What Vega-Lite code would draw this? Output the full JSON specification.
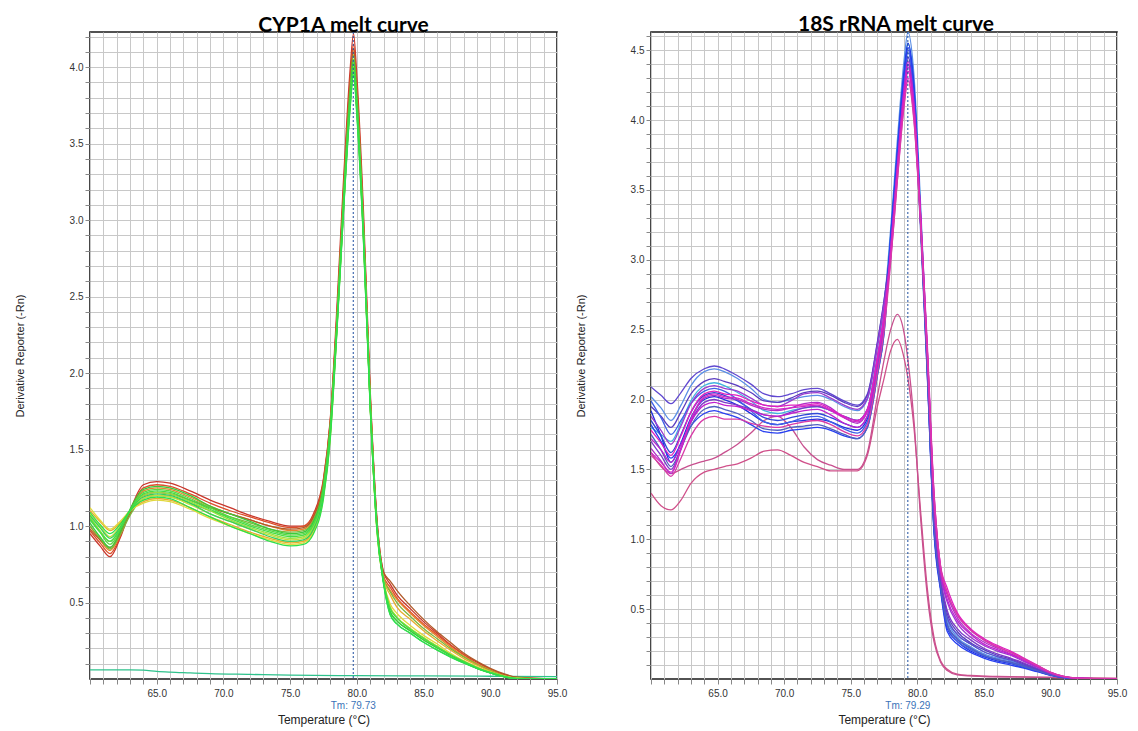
{
"$schema": "https://vega.github.io/schema/vega-lite/v6.json",
"background": "white",
"padding": {"left": 13, "top": 13, "right": 5, "bottom": 3},
"config": {
 "view": {"stroke": "#1a1a1a", "strokeWidth": 1.6},
 "axis": {"gridColor": "#c8c8c8", "gridWidth": 1, "gridOpacity": 1, "tickColor": "#888888", "tickSize": 5, "domain": false, "labelFont": "Liberation Sans", "labelFontSize": 10, "labelColor": "#333333", "titleFont": "Liberation Sans", "titleFontWeight": "normal", "titleColor": "#222222", "labelOverlap": false, "labelFlush": false, "labelBound": false},
 "title": {"font": "Lato", "fontSize": 21, "fontWeight": "bold", "color": "#000000", "baseline": "alphabetic", "offset": -4, "anchor": "middle"}
},
"datasets": {
"cyp": [
{"s":"L0","t":60,"v":0.06},{"s":"L0","t":63,"v":0.06},{"s":"L0","t":64,"v":0.058},{"s":"L0","t":65,"v":0.05},{"s":"L0","t":66,"v":0.045},{"s":"L0","t":67.5,"v":0.04},{"s":"L0","t":69,"v":0.035},{"s":"L0","t":72,"v":0.03},{"s":"L0","t":75,"v":0.025},{"s":"L0","t":80,"v":0.022},{"s":"L0","t":85,"v":0.02},{"s":"L0","t":90,"v":0.018},{"s":"L0","t":95,"v":0.015},
{"s":"L1","t":60,"v":0.95},{"s":"L1","t":60.75,"v":0.87},{"s":"L1","t":61.5,"v":0.80},{"s":"L1","t":62.25,"v":0.92},{"s":"L1","t":63,"v":1.10},{"s":"L1","t":64,"v":1.27},{"s":"L1","t":65,"v":1.29},{"s":"L1","t":66,"v":1.28},{"s":"L1","t":67.5,"v":1.23},{"s":"L1","t":69,"v":1.17},{"s":"L1","t":70.5,"v":1.12},{"s":"L1","t":72,"v":1.07},{"s":"L1","t":73.5,"v":1.03},{"s":"L1","t":75,"v":1.00},{"s":"L1","t":76,"v":1.00},{"s":"L1","t":76.75,"v":1.08},{"s":"L1","t":77.5,"v":1.31},{"s":"L1","t":78,"v":1.69},{"s":"L1","t":78.5,"v":2.42},{"s":"L1","t":79,"v":3.26},{"s":"L1","t":79.5,"v":3.99},{"s":"L1","t":79.75,"v":4.22},{"s":"L1","t":80,"v":3.94},{"s":"L1","t":80.5,"v":3.05},{"s":"L1","t":81,"v":1.89},{"s":"L1","t":81.5,"v":1.05},{"s":"L1","t":82,"v":0.70},{"s":"L1","t":82.5,"v":0.62},{"s":"L1","t":83,"v":0.55},{"s":"L1","t":84,"v":0.46},{"s":"L1","t":85,"v":0.375},{"s":"L1","t":86,"v":0.30},{"s":"L1","t":87,"v":0.225},{"s":"L1","t":88,"v":0.16},{"s":"L1","t":89,"v":0.11},{"s":"L1","t":90,"v":0.065},{"s":"L1","t":91,"v":0.03},{"s":"L1","t":92,"v":0.01},{"s":"L1","t":95,"v":0},
{"s":"L2","t":60,"v":0.97},{"s":"L2","t":60.75,"v":0.89},{"s":"L2","t":61.5,"v":0.82},{"s":"L2","t":62.25,"v":0.93},{"s":"L2","t":63,"v":1.10},{"s":"L2","t":64,"v":1.25},{"s":"L2","t":65,"v":1.27},{"s":"L2","t":66,"v":1.26},{"s":"L2","t":67.5,"v":1.21},{"s":"L2","t":69,"v":1.15},{"s":"L2","t":70.5,"v":1.10},{"s":"L2","t":72,"v":1.06},{"s":"L2","t":73.5,"v":1.02},{"s":"L2","t":75,"v":0.99},{"s":"L2","t":76,"v":1.00},{"s":"L2","t":76.75,"v":1.07},{"s":"L2","t":77.5,"v":1.30},{"s":"L2","t":78,"v":1.68},{"s":"L2","t":78.5,"v":2.37},{"s":"L2","t":79,"v":3.20},{"s":"L2","t":79.5,"v":3.92},{"s":"L2","t":79.75,"v":4.15},{"s":"L2","t":80,"v":3.87},{"s":"L2","t":80.5,"v":2.99},{"s":"L2","t":81,"v":1.86},{"s":"L2","t":81.5,"v":1.03},{"s":"L2","t":82,"v":0.67},{"s":"L2","t":82.5,"v":0.60},{"s":"L2","t":83,"v":0.53},{"s":"L2","t":84,"v":0.44},{"s":"L2","t":85,"v":0.36},{"s":"L2","t":86,"v":0.29},{"s":"L2","t":87,"v":0.22},{"s":"L2","t":88,"v":0.16},{"s":"L2","t":89,"v":0.10},{"s":"L2","t":90,"v":0.06},{"s":"L2","t":91,"v":0.025},{"s":"L2","t":92,"v":0.008},{"s":"L2","t":95,"v":0},
{"s":"L3","t":60,"v":1.00},{"s":"L3","t":60.75,"v":0.91},{"s":"L3","t":61.5,"v":0.84},{"s":"L3","t":62.25,"v":0.94},{"s":"L3","t":63,"v":1.09},{"s":"L3","t":64,"v":1.23},{"s":"L3","t":65,"v":1.25},{"s":"L3","t":66,"v":1.24},{"s":"L3","t":67.5,"v":1.19},{"s":"L3","t":69,"v":1.13},{"s":"L3","t":70.5,"v":1.08},{"s":"L3","t":72,"v":1.04},{"s":"L3","t":73.5,"v":1.00},{"s":"L3","t":75,"v":0.97},{"s":"L3","t":76,"v":0.98},{"s":"L3","t":76.75,"v":1.05},{"s":"L3","t":77.5,"v":1.28},{"s":"L3","t":78,"v":1.66},{"s":"L3","t":78.5,"v":2.35},{"s":"L3","t":79,"v":3.16},{"s":"L3","t":79.5,"v":3.88},{"s":"L3","t":79.75,"v":4.10},{"s":"L3","t":80,"v":3.83},{"s":"L3","t":80.5,"v":2.96},{"s":"L3","t":81,"v":1.84},{"s":"L3","t":81.5,"v":1.02},{"s":"L3","t":82,"v":0.66},{"s":"L3","t":82.5,"v":0.58},{"s":"L3","t":83,"v":0.52},{"s":"L3","t":84,"v":0.43},{"s":"L3","t":85,"v":0.35},{"s":"L3","t":86,"v":0.28},{"s":"L3","t":87,"v":0.21},{"s":"L3","t":88,"v":0.15},{"s":"L3","t":89,"v":0.10},{"s":"L3","t":90,"v":0.06},{"s":"L3","t":91,"v":0.023},{"s":"L3","t":92,"v":0.006},{"s":"L3","t":95,"v":0},
{"s":"L4","t":60,"v":0.98},{"s":"L4","t":60.75,"v":0.91},{"s":"L4","t":61.5,"v":0.86},{"s":"L4","t":62.25,"v":0.95},{"s":"L4","t":63,"v":1.08},{"s":"L4","t":64,"v":1.20},{"s":"L4","t":65,"v":1.22},{"s":"L4","t":66,"v":1.21},{"s":"L4","t":67.5,"v":1.17},{"s":"L4","t":69,"v":1.12},{"s":"L4","t":70.5,"v":1.08},{"s":"L4","t":72,"v":1.04},{"s":"L4","t":73.5,"v":1.00},{"s":"L4","t":75,"v":0.98},{"s":"L4","t":76,"v":0.99},{"s":"L4","t":76.75,"v":1.06},{"s":"L4","t":77.5,"v":1.29},{"s":"L4","t":78,"v":1.67},{"s":"L4","t":78.5,"v":2.36},{"s":"L4","t":79,"v":3.18},{"s":"L4","t":79.5,"v":3.90},{"s":"L4","t":79.75,"v":4.12},{"s":"L4","t":80,"v":3.84},{"s":"L4","t":80.5,"v":2.97},{"s":"L4","t":81,"v":1.85},{"s":"L4","t":81.5,"v":1.05},{"s":"L4","t":82,"v":0.70},{"s":"L4","t":82.5,"v":0.64},{"s":"L4","t":83,"v":0.58},{"s":"L4","t":84,"v":0.48},{"s":"L4","t":85,"v":0.39},{"s":"L4","t":86,"v":0.31},{"s":"L4","t":87,"v":0.24},{"s":"L4","t":88,"v":0.17},{"s":"L4","t":89,"v":0.115},{"s":"L4","t":90,"v":0.07},{"s":"L4","t":91,"v":0.035},{"s":"L4","t":92,"v":0.012},{"s":"L4","t":95,"v":0},
{"s":"L13","t":60,"v":1.00},{"s":"L13","t":60.75,"v":0.92},{"s":"L13","t":61.5,"v":0.85},{"s":"L13","t":62.25,"v":0.94},{"s":"L13","t":63,"v":1.07},{"s":"L13","t":64,"v":1.18},{"s":"L13","t":65,"v":1.20},{"s":"L13","t":66,"v":1.19},{"s":"L13","t":67.5,"v":1.15},{"s":"L13","t":69,"v":1.10},{"s":"L13","t":70.5,"v":1.06},{"s":"L13","t":72,"v":1.02},{"s":"L13","t":73.5,"v":0.98},{"s":"L13","t":75,"v":0.96},{"s":"L13","t":76,"v":0.97},{"s":"L13","t":76.75,"v":1.04},{"s":"L13","t":77.5,"v":1.27},{"s":"L13","t":78,"v":1.65},{"s":"L13","t":78.5,"v":2.33},{"s":"L13","t":79,"v":3.15},{"s":"L13","t":79.5,"v":3.86},{"s":"L13","t":79.75,"v":4.08},{"s":"L13","t":80,"v":3.81},{"s":"L13","t":80.5,"v":2.94},{"s":"L13","t":81,"v":1.83},{"s":"L13","t":81.5,"v":1.02},{"s":"L13","t":82,"v":0.66},{"s":"L13","t":82.5,"v":0.57},{"s":"L13","t":83,"v":0.50},{"s":"L13","t":84,"v":0.41},{"s":"L13","t":85,"v":0.33},{"s":"L13","t":86,"v":0.265},{"s":"L13","t":87,"v":0.20},{"s":"L13","t":88,"v":0.145},{"s":"L13","t":89,"v":0.095},{"s":"L13","t":90,"v":0.055},{"s":"L13","t":91,"v":0.022},{"s":"L13","t":92,"v":0.006},{"s":"L13","t":95,"v":0},
{"s":"L5","t":60,"v":1.10},{"s":"L5","t":60.75,"v":1.03},{"s":"L5","t":61.5,"v":0.97},{"s":"L5","t":62.25,"v":1.02},{"s":"L5","t":63,"v":1.10},{"s":"L5","t":64,"v":1.16},{"s":"L5","t":65,"v":1.18},{"s":"L5","t":66,"v":1.17},{"s":"L5","t":67.5,"v":1.12},{"s":"L5","t":69,"v":1.06},{"s":"L5","t":70.5,"v":1.01},{"s":"L5","t":72,"v":0.96},{"s":"L5","t":73.5,"v":0.92},{"s":"L5","t":75,"v":0.89},{"s":"L5","t":76,"v":0.90},{"s":"L5","t":76.75,"v":0.97},{"s":"L5","t":77.5,"v":1.20},{"s":"L5","t":78,"v":1.58},{"s":"L5","t":78.5,"v":2.29},{"s":"L5","t":79,"v":3.08},{"s":"L5","t":79.5,"v":3.78},{"s":"L5","t":79.75,"v":4.00},{"s":"L5","t":80,"v":3.73},{"s":"L5","t":80.5,"v":2.89},{"s":"L5","t":81,"v":1.79},{"s":"L5","t":81.5,"v":0.99},{"s":"L5","t":82,"v":0.65},{"s":"L5","t":82.5,"v":0.55},{"s":"L5","t":83,"v":0.47},{"s":"L5","t":84,"v":0.39},{"s":"L5","t":85,"v":0.315},{"s":"L5","t":86,"v":0.25},{"s":"L5","t":87,"v":0.19},{"s":"L5","t":88,"v":0.135},{"s":"L5","t":89,"v":0.09},{"s":"L5","t":90,"v":0.05},{"s":"L5","t":91,"v":0.02},{"s":"L5","t":92,"v":0.005},{"s":"L5","t":95,"v":0},
{"s":"L6","t":60,"v":1.12},{"s":"L6","t":60.75,"v":1.04},{"s":"L6","t":61.5,"v":0.98},{"s":"L6","t":62.25,"v":1.03},{"s":"L6","t":63,"v":1.10},{"s":"L6","t":64,"v":1.15},{"s":"L6","t":65,"v":1.17},{"s":"L6","t":66,"v":1.16},{"s":"L6","t":67.5,"v":1.11},{"s":"L6","t":69,"v":1.05},{"s":"L6","t":70.5,"v":1.00},{"s":"L6","t":72,"v":0.95},{"s":"L6","t":73.5,"v":0.91},{"s":"L6","t":75,"v":0.88},{"s":"L6","t":76,"v":0.89},{"s":"L6","t":76.75,"v":0.96},{"s":"L6","t":77.5,"v":1.19},{"s":"L6","t":78,"v":1.57},{"s":"L6","t":78.5,"v":2.28},{"s":"L6","t":79,"v":3.07},{"s":"L6","t":79.5,"v":3.76},{"s":"L6","t":79.75,"v":3.98},{"s":"L6","t":80,"v":3.71},{"s":"L6","t":80.5,"v":2.87},{"s":"L6","t":81,"v":1.78},{"s":"L6","t":81.5,"v":0.97},{"s":"L6","t":82,"v":0.64},{"s":"L6","t":82.5,"v":0.49},{"s":"L6","t":83,"v":0.43},{"s":"L6","t":84,"v":0.35},{"s":"L6","t":85,"v":0.285},{"s":"L6","t":86,"v":0.23},{"s":"L6","t":87,"v":0.17},{"s":"L6","t":88,"v":0.12},{"s":"L6","t":89,"v":0.08},{"s":"L6","t":90,"v":0.045},{"s":"L6","t":91,"v":0.018},{"s":"L6","t":92,"v":0.004},{"s":"L6","t":95,"v":0},
{"s":"L7","t":60,"v":1.08},{"s":"L7","t":60.75,"v":1.00},{"s":"L7","t":61.5,"v":0.93},{"s":"L7","t":62.25,"v":1.00},{"s":"L7","t":63,"v":1.10},{"s":"L7","t":64,"v":1.18},{"s":"L7","t":65,"v":1.20},{"s":"L7","t":66,"v":1.19},{"s":"L7","t":67.5,"v":1.14},{"s":"L7","t":69,"v":1.08},{"s":"L7","t":70.5,"v":1.03},{"s":"L7","t":72,"v":0.98},{"s":"L7","t":73.5,"v":0.94},{"s":"L7","t":75,"v":0.91},{"s":"L7","t":76,"v":0.92},{"s":"L7","t":76.75,"v":0.99},{"s":"L7","t":77.5,"v":1.22},{"s":"L7","t":78,"v":1.60},{"s":"L7","t":78.5,"v":2.29},{"s":"L7","t":79,"v":3.08},{"s":"L7","t":79.5,"v":3.78},{"s":"L7","t":79.75,"v":4.00},{"s":"L7","t":80,"v":3.73},{"s":"L7","t":80.5,"v":2.89},{"s":"L7","t":81,"v":1.79},{"s":"L7","t":81.5,"v":0.98},{"s":"L7","t":82,"v":0.64},{"s":"L7","t":82.5,"v":0.47},{"s":"L7","t":83,"v":0.405},{"s":"L7","t":84,"v":0.33},{"s":"L7","t":85,"v":0.27},{"s":"L7","t":86,"v":0.215},{"s":"L7","t":87,"v":0.16},{"s":"L7","t":88,"v":0.115},{"s":"L7","t":89,"v":0.075},{"s":"L7","t":90,"v":0.045},{"s":"L7","t":91,"v":0.018},{"s":"L7","t":92,"v":0.004},{"s":"L7","t":95,"v":0},
{"s":"L8","t":60,"v":1.06},{"s":"L8","t":60.75,"v":0.97},{"s":"L8","t":61.5,"v":0.90},{"s":"L8","t":62.25,"v":0.98},{"s":"L8","t":63,"v":1.10},{"s":"L8","t":64,"v":1.20},{"s":"L8","t":65,"v":1.22},{"s":"L8","t":66,"v":1.21},{"s":"L8","t":67.5,"v":1.16},{"s":"L8","t":69,"v":1.10},{"s":"L8","t":70.5,"v":1.04},{"s":"L8","t":72,"v":0.99},{"s":"L8","t":73.5,"v":0.95},{"s":"L8","t":75,"v":0.92},{"s":"L8","t":76,"v":0.93},{"s":"L8","t":76.75,"v":1.00},{"s":"L8","t":77.5,"v":1.23},{"s":"L8","t":78,"v":1.61},{"s":"L8","t":78.5,"v":2.30},{"s":"L8","t":79,"v":3.10},{"s":"L8","t":79.5,"v":3.80},{"s":"L8","t":79.75,"v":4.02},{"s":"L8","t":80,"v":3.75},{"s":"L8","t":80.5,"v":2.90},{"s":"L8","t":81,"v":1.80},{"s":"L8","t":81.5,"v":1.00},{"s":"L8","t":82,"v":0.64},{"s":"L8","t":82.5,"v":0.47},{"s":"L8","t":83,"v":0.405},{"s":"L8","t":84,"v":0.33},{"s":"L8","t":85,"v":0.27},{"s":"L8","t":86,"v":0.215},{"s":"L8","t":87,"v":0.16},{"s":"L8","t":88,"v":0.115},{"s":"L8","t":89,"v":0.075},{"s":"L8","t":90,"v":0.045},{"s":"L8","t":91,"v":0.018},{"s":"L8","t":92,"v":0.004},{"s":"L8","t":95,"v":0},
{"s":"L9","t":60,"v":1.05},{"s":"L9","t":60.75,"v":0.96},{"s":"L9","t":61.5,"v":0.88},{"s":"L9","t":62.25,"v":0.97},{"s":"L9","t":63,"v":1.10},{"s":"L9","t":64,"v":1.22},{"s":"L9","t":65,"v":1.24},{"s":"L9","t":66,"v":1.23},{"s":"L9","t":67.5,"v":1.18},{"s":"L9","t":69,"v":1.12},{"s":"L9","t":70.5,"v":1.06},{"s":"L9","t":72,"v":1.01},{"s":"L9","t":73.5,"v":0.97},{"s":"L9","t":75,"v":0.94},{"s":"L9","t":76,"v":0.95},{"s":"L9","t":76.75,"v":1.02},{"s":"L9","t":77.5,"v":1.25},{"s":"L9","t":78,"v":1.63},{"s":"L9","t":78.5,"v":2.31},{"s":"L9","t":79,"v":3.11},{"s":"L9","t":79.5,"v":3.81},{"s":"L9","t":79.75,"v":4.03},{"s":"L9","t":80,"v":3.76},{"s":"L9","t":80.5,"v":2.91},{"s":"L9","t":81,"v":1.80},{"s":"L9","t":81.5,"v":1.00},{"s":"L9","t":82,"v":0.635},{"s":"L9","t":82.5,"v":0.44},{"s":"L9","t":83,"v":0.38},{"s":"L9","t":84,"v":0.315},{"s":"L9","t":85,"v":0.255},{"s":"L9","t":86,"v":0.205},{"s":"L9","t":87,"v":0.155},{"s":"L9","t":88,"v":0.11},{"s":"L9","t":89,"v":0.07},{"s":"L9","t":90,"v":0.04},{"s":"L9","t":91,"v":0.015},{"s":"L9","t":92,"v":0.003},{"s":"L9","t":95,"v":0},
{"s":"L10","t":60,"v":1.02},{"s":"L10","t":60.75,"v":0.93},{"s":"L10","t":61.5,"v":0.86},{"s":"L10","t":62.25,"v":0.96},{"s":"L10","t":63,"v":1.11},{"s":"L10","t":64,"v":1.24},{"s":"L10","t":65,"v":1.26},{"s":"L10","t":66,"v":1.25},{"s":"L10","t":67.5,"v":1.20},{"s":"L10","t":69,"v":1.13},{"s":"L10","t":70.5,"v":1.08},{"s":"L10","t":72,"v":1.03},{"s":"L10","t":73.5,"v":0.98},{"s":"L10","t":75,"v":0.95},{"s":"L10","t":76,"v":0.96},{"s":"L10","t":76.75,"v":1.03},{"s":"L10","t":77.5,"v":1.26},{"s":"L10","t":78,"v":1.64},{"s":"L10","t":78.5,"v":2.32},{"s":"L10","t":79,"v":3.12},{"s":"L10","t":79.5,"v":3.83},{"s":"L10","t":79.75,"v":4.05},{"s":"L10","t":80,"v":3.78},{"s":"L10","t":80.5,"v":2.92},{"s":"L10","t":81,"v":1.81},{"s":"L10","t":81.5,"v":1.01},{"s":"L10","t":82,"v":0.635},{"s":"L10","t":82.5,"v":0.44},{"s":"L10","t":83,"v":0.38},{"s":"L10","t":84,"v":0.315},{"s":"L10","t":85,"v":0.255},{"s":"L10","t":86,"v":0.205},{"s":"L10","t":87,"v":0.155},{"s":"L10","t":88,"v":0.11},{"s":"L10","t":89,"v":0.07},{"s":"L10","t":90,"v":0.04},{"s":"L10","t":91,"v":0.015},{"s":"L10","t":92,"v":0.003},{"s":"L10","t":95,"v":0},
{"s":"L11","t":60,"v":1.07},{"s":"L11","t":60.75,"v":0.99},{"s":"L11","t":61.5,"v":0.92},{"s":"L11","t":62.25,"v":0.99},{"s":"L11","t":63,"v":1.10},{"s":"L11","t":64,"v":1.19},{"s":"L11","t":65,"v":1.21},{"s":"L11","t":66,"v":1.20},{"s":"L11","t":67.5,"v":1.15},{"s":"L11","t":69,"v":1.08},{"s":"L11","t":70.5,"v":1.03},{"s":"L11","t":72,"v":0.98},{"s":"L11","t":73.5,"v":0.93},{"s":"L11","t":75,"v":0.90},{"s":"L11","t":76,"v":0.91},{"s":"L11","t":76.75,"v":0.98},{"s":"L11","t":77.5,"v":1.21},{"s":"L11","t":78,"v":1.59},{"s":"L11","t":78.5,"v":2.27},{"s":"L11","t":79,"v":3.06},{"s":"L11","t":79.5,"v":3.75},{"s":"L11","t":79.75,"v":3.97},{"s":"L11","t":80,"v":3.70},{"s":"L11","t":80.5,"v":2.86},{"s":"L11","t":81,"v":1.78},{"s":"L11","t":81.5,"v":0.99},{"s":"L11","t":82,"v":0.63},{"s":"L11","t":82.5,"v":0.42},{"s":"L11","t":83,"v":0.36},{"s":"L11","t":84,"v":0.30},{"s":"L11","t":85,"v":0.24},{"s":"L11","t":86,"v":0.19},{"s":"L11","t":87,"v":0.145},{"s":"L11","t":88,"v":0.105},{"s":"L11","t":89,"v":0.07},{"s":"L11","t":90,"v":0.04},{"s":"L11","t":91,"v":0.015},{"s":"L11","t":92,"v":0.003},{"s":"L11","t":95,"v":0},
{"s":"L12","t":60,"v":1.04},{"s":"L12","t":60.75,"v":0.96},{"s":"L12","t":61.5,"v":0.90},{"s":"L12","t":62.25,"v":0.98},{"s":"L12","t":63,"v":1.10},{"s":"L12","t":64,"v":1.21},{"s":"L12","t":65,"v":1.23},{"s":"L12","t":66,"v":1.22},{"s":"L12","t":67.5,"v":1.17},{"s":"L12","t":69,"v":1.11},{"s":"L12","t":70.5,"v":1.05},{"s":"L12","t":72,"v":1.00},{"s":"L12","t":73.5,"v":0.96},{"s":"L12","t":75,"v":0.93},{"s":"L12","t":76,"v":0.94},{"s":"L12","t":76.75,"v":1.01},{"s":"L12","t":77.5,"v":1.24},{"s":"L12","t":78,"v":1.62},{"s":"L12","t":78.5,"v":2.29},{"s":"L12","t":79,"v":3.08},{"s":"L12","t":79.5,"v":3.78},{"s":"L12","t":79.75,"v":4.00},{"s":"L12","t":80,"v":3.73},{"s":"L12","t":80.5,"v":2.89},{"s":"L12","t":81,"v":1.79},{"s":"L12","t":81.5,"v":0.99},{"s":"L12","t":82,"v":0.64},{"s":"L12","t":82.5,"v":0.46},{"s":"L12","t":83,"v":0.40},{"s":"L12","t":84,"v":0.325},{"s":"L12","t":85,"v":0.265},{"s":"L12","t":86,"v":0.21},{"s":"L12","t":87,"v":0.16},{"s":"L12","t":88,"v":0.115},{"s":"L12","t":89,"v":0.075},{"s":"L12","t":90,"v":0.044},{"s":"L12","t":91,"v":0.018},{"s":"L12","t":92,"v":0.004},{"s":"L12","t":95,"v":0},
{"s":"L14","t":60,"v":1.09},{"s":"L14","t":60.75,"v":1.01},{"s":"L14","t":61.5,"v":0.95},{"s":"L14","t":62.25,"v":1.01},{"s":"L14","t":63,"v":1.10},{"s":"L14","t":64,"v":1.17},{"s":"L14","t":65,"v":1.19},{"s":"L14","t":66,"v":1.18},{"s":"L14","t":67.5,"v":1.12},{"s":"L14","t":69,"v":1.06},{"s":"L14","t":70.5,"v":1.00},{"s":"L14","t":72,"v":0.95},{"s":"L14","t":73.5,"v":0.90},{"s":"L14","t":75,"v":0.87},{"s":"L14","t":76,"v":0.88},{"s":"L14","t":76.75,"v":0.95},{"s":"L14","t":77.5,"v":1.18},{"s":"L14","t":78,"v":1.56},{"s":"L14","t":78.5,"v":2.26},{"s":"L14","t":79,"v":3.05},{"s":"L14","t":79.5,"v":3.73},{"s":"L14","t":79.75,"v":3.95},{"s":"L14","t":80,"v":3.68},{"s":"L14","t":80.5,"v":2.85},{"s":"L14","t":81,"v":1.77},{"s":"L14","t":81.5,"v":0.98},{"s":"L14","t":82,"v":0.62},{"s":"L14","t":82.5,"v":0.42},{"s":"L14","t":83,"v":0.36},{"s":"L14","t":84,"v":0.30},{"s":"L14","t":85,"v":0.24},{"s":"L14","t":86,"v":0.19},{"s":"L14","t":87,"v":0.145},{"s":"L14","t":88,"v":0.105},{"s":"L14","t":89,"v":0.07},{"s":"L14","t":90,"v":0.04},{"s":"L14","t":91,"v":0.015},{"s":"L14","t":92,"v":0.003},{"s":"L14","t":95,"v":0}
],
"rrna": [
{"s":"O1","t":60,"v":1.33},{"s":"O1","t":60.75,"v":1.24},{"s":"O1","t":61.5,"v":1.21},{"s":"O1","t":62.25,"v":1.28},{"s":"O1","t":63,"v":1.40},{"s":"O1","t":64,"v":1.48},{"s":"O1","t":64.75,"v":1.50},{"s":"O1","t":65.5,"v":1.52},{"s":"O1","t":66.5,"v":1.54},{"s":"O1","t":67.5,"v":1.58},{"s":"O1","t":68.5,"v":1.63},{"s":"O1","t":69.5,"v":1.64},{"s":"O1","t":70.5,"v":1.60},{"s":"O1","t":71.5,"v":1.55},{"s":"O1","t":72.5,"v":1.52},{"s":"O1","t":73.5,"v":1.49},{"s":"O1","t":74.5,"v":1.49},{"s":"O1","t":75.5,"v":1.49},{"s":"O1","t":76.25,"v":1.60},{"s":"O1","t":77,"v":1.95},{"s":"O1","t":77.5,"v":2.15},{"s":"O1","t":78,"v":2.35},{"s":"O1","t":78.5,"v":2.43},{"s":"O1","t":79,"v":2.30},{"s":"O1","t":79.3,"v":2.15},{"s":"O1","t":79.75,"v":1.80},{"s":"O1","t":80.25,"v":1.20},{"s":"O1","t":80.75,"v":0.65},{"s":"O1","t":81.25,"v":0.30},{"s":"O1","t":81.75,"v":0.13},{"s":"O1","t":82.25,"v":0.07},{"s":"O1","t":83,"v":0.035},{"s":"O1","t":84,"v":0.025},{"s":"O1","t":85,"v":0.02},{"s":"O1","t":86,"v":0.018},{"s":"O1","t":87,"v":0.016},{"s":"O1","t":88,"v":0.015},{"s":"O1","t":89,"v":0.013},{"s":"O1","t":90,"v":0.012},{"s":"O1","t":91,"v":0.01},{"s":"O1","t":92,"v":0.008},{"s":"O1","t":95,"v":0.005},
{"s":"O2","t":60,"v":1.62},{"s":"O2","t":60.75,"v":1.52},{"s":"O2","t":61.5,"v":1.47},{"s":"O2","t":62.25,"v":1.50},{"s":"O2","t":63,"v":1.53},{"s":"O2","t":64,"v":1.56},{"s":"O2","t":64.75,"v":1.58},{"s":"O2","t":65.5,"v":1.62},{"s":"O2","t":66.5,"v":1.68},{"s":"O2","t":67.5,"v":1.76},{"s":"O2","t":68.5,"v":1.85},{"s":"O2","t":69.5,"v":1.88},{"s":"O2","t":70.5,"v":1.80},{"s":"O2","t":71.5,"v":1.66},{"s":"O2","t":72.5,"v":1.57},{"s":"O2","t":73.5,"v":1.53},{"s":"O2","t":74.5,"v":1.50},{"s":"O2","t":75.5,"v":1.50},{"s":"O2","t":76.25,"v":1.62},{"s":"O2","t":77,"v":2.02},{"s":"O2","t":77.5,"v":2.28},{"s":"O2","t":78,"v":2.50},{"s":"O2","t":78.5,"v":2.61},{"s":"O2","t":79,"v":2.48},{"s":"O2","t":79.3,"v":2.28},{"s":"O2","t":79.75,"v":1.85},{"s":"O2","t":80.25,"v":1.15},{"s":"O2","t":80.75,"v":0.60},{"s":"O2","t":81.25,"v":0.27},{"s":"O2","t":81.75,"v":0.12},{"s":"O2","t":82.25,"v":0.06},{"s":"O2","t":83,"v":0.03},{"s":"O2","t":84,"v":0.022},{"s":"O2","t":85,"v":0.018},{"s":"O2","t":86,"v":0.016},{"s":"O2","t":87,"v":0.015},{"s":"O2","t":88,"v":0.014},{"s":"O2","t":89,"v":0.012},{"s":"O2","t":90,"v":0.011},{"s":"O2","t":91,"v":0.01},{"s":"O2","t":92,"v":0.008},{"s":"O2","t":95,"v":0.005},
{"s":"R4","t":60,"v":2.02},{"s":"R4","t":60.75,"v":1.94},{"s":"R4","t":61.5,"v":1.85},{"s":"R4","t":62.25,"v":1.96},{"s":"R4","t":63,"v":2.10},{"s":"R4","t":64,"v":2.20},{"s":"R4","t":64.75,"v":2.22},{"s":"R4","t":65.5,"v":2.20},{"s":"R4","t":66.5,"v":2.15},{"s":"R4","t":67.5,"v":2.08},{"s":"R4","t":68.5,"v":2.00},{"s":"R4","t":69.5,"v":1.98},{"s":"R4","t":70.5,"v":2.00},{"s":"R4","t":71.5,"v":2.02},{"s":"R4","t":72.5,"v":2.03},{"s":"R4","t":73.5,"v":2.00},{"s":"R4","t":74.5,"v":1.95},{"s":"R4","t":75.5,"v":1.92},{"s":"R4","t":76.25,"v":2.00},{"s":"R4","t":77,"v":2.37},{"s":"R4","t":77.5,"v":2.67},{"s":"R4","t":78,"v":3.22},{"s":"R4","t":78.5,"v":3.85},{"s":"R4","t":79,"v":4.42},{"s":"R4","t":79.3,"v":4.63},{"s":"R4","t":79.75,"v":4.32},{"s":"R4","t":80.25,"v":3.39},{"s":"R4","t":80.75,"v":2.32},{"s":"R4","t":81.25,"v":1.13},{"s":"R4","t":81.75,"v":0.68},{"s":"R4","t":82.25,"v":0.42},{"s":"R4","t":83,"v":0.30},{"s":"R4","t":84,"v":0.23},{"s":"R4","t":85,"v":0.18},{"s":"R4","t":86,"v":0.15},{"s":"R4","t":87,"v":0.13},{"s":"R4","t":88,"v":0.096},{"s":"R4","t":89,"v":0.064},{"s":"R4","t":90,"v":0.032},{"s":"R4","t":91,"v":0.012},{"s":"R4","t":92,"v":0.004},{"s":"R4","t":95,"v":0},
{"s":"R5","t":60,"v":1.80},{"s":"R5","t":60.75,"v":1.75},{"s":"R5","t":61.5,"v":1.70},{"s":"R5","t":62.25,"v":1.83},{"s":"R5","t":63,"v":1.99},{"s":"R5","t":64,"v":2.10},{"s":"R5","t":64.75,"v":2.12},{"s":"R5","t":65.5,"v":2.10},{"s":"R5","t":66.5,"v":2.05},{"s":"R5","t":67.5,"v":1.99},{"s":"R5","t":68.5,"v":1.92},{"s":"R5","t":69.5,"v":1.90},{"s":"R5","t":70.5,"v":1.92},{"s":"R5","t":71.5,"v":1.94},{"s":"R5","t":72.5,"v":1.95},{"s":"R5","t":73.5,"v":1.92},{"s":"R5","t":74.5,"v":1.88},{"s":"R5","t":75.5,"v":1.85},{"s":"R5","t":76.25,"v":1.93},{"s":"R5","t":77,"v":2.30},{"s":"R5","t":77.5,"v":2.60},{"s":"R5","t":78,"v":3.17},{"s":"R5","t":78.5,"v":3.78},{"s":"R5","t":79,"v":4.34},{"s":"R5","t":79.3,"v":4.55},{"s":"R5","t":79.75,"v":4.24},{"s":"R5","t":80.25,"v":3.34},{"s":"R5","t":80.75,"v":2.30},{"s":"R5","t":81.25,"v":1.15},{"s":"R5","t":81.75,"v":0.69},{"s":"R5","t":82.25,"v":0.44},{"s":"R5","t":83,"v":0.32},{"s":"R5","t":84,"v":0.25},{"s":"R5","t":85,"v":0.195},{"s":"R5","t":86,"v":0.16},{"s":"R5","t":87,"v":0.136},{"s":"R5","t":88,"v":0.10},{"s":"R5","t":89,"v":0.068},{"s":"R5","t":90,"v":0.034},{"s":"R5","t":91,"v":0.013},{"s":"R5","t":92,"v":0.004},{"s":"R5","t":95,"v":0},
{"s":"R7","t":60,"v":2.09},{"s":"R7","t":60.75,"v":2.03},{"s":"R7","t":61.5,"v":1.97},{"s":"R7","t":62.25,"v":2.05},{"s":"R7","t":63,"v":2.15},{"s":"R7","t":64,"v":2.22},{"s":"R7","t":64.75,"v":2.24},{"s":"R7","t":65.5,"v":2.22},{"s":"R7","t":66.5,"v":2.17},{"s":"R7","t":67.5,"v":2.11},{"s":"R7","t":68.5,"v":2.04},{"s":"R7","t":69.5,"v":2.02},{"s":"R7","t":70.5,"v":2.04},{"s":"R7","t":71.5,"v":2.07},{"s":"R7","t":72.5,"v":2.08},{"s":"R7","t":73.5,"v":2.04},{"s":"R7","t":74.5,"v":1.99},{"s":"R7","t":75.5,"v":1.96},{"s":"R7","t":76.25,"v":2.04},{"s":"R7","t":77,"v":2.41},{"s":"R7","t":77.5,"v":2.71},{"s":"R7","t":78,"v":3.10},{"s":"R7","t":78.5,"v":3.70},{"s":"R7","t":79,"v":4.25},{"s":"R7","t":79.3,"v":4.45},{"s":"R7","t":79.75,"v":4.15},{"s":"R7","t":80.25,"v":3.27},{"s":"R7","t":80.75,"v":2.25},{"s":"R7","t":81.25,"v":1.15},{"s":"R7","t":81.75,"v":0.69},{"s":"R7","t":82.25,"v":0.44},{"s":"R7","t":83,"v":0.32},{"s":"R7","t":84,"v":0.25},{"s":"R7","t":85,"v":0.195},{"s":"R7","t":86,"v":0.16},{"s":"R7","t":87,"v":0.136},{"s":"R7","t":88,"v":0.10},{"s":"R7","t":89,"v":0.068},{"s":"R7","t":90,"v":0.034},{"s":"R7","t":91,"v":0.013},{"s":"R7","t":92,"v":0.004},{"s":"R7","t":95,"v":0},
{"s":"R14","t":60,"v":1.95},{"s":"R14","t":60.75,"v":1.88},{"s":"R14","t":61.5,"v":1.80},{"s":"R14","t":62.25,"v":1.91},{"s":"R14","t":63,"v":2.04},{"s":"R14","t":64,"v":2.13},{"s":"R14","t":64.75,"v":2.15},{"s":"R14","t":65.5,"v":2.13},{"s":"R14","t":66.5,"v":2.10},{"s":"R14","t":67.5,"v":2.05},{"s":"R14","t":68.5,"v":1.99},{"s":"R14","t":69.5,"v":1.98},{"s":"R14","t":70.5,"v":2.01},{"s":"R14","t":71.5,"v":2.05},{"s":"R14","t":72.5,"v":2.06},{"s":"R14","t":73.5,"v":2.03},{"s":"R14","t":74.5,"v":1.98},{"s":"R14","t":75.5,"v":1.95},{"s":"R14","t":76.25,"v":2.03},{"s":"R14","t":77,"v":2.40},{"s":"R14","t":77.5,"v":2.70},{"s":"R14","t":78,"v":3.10},{"s":"R14","t":78.5,"v":3.70},{"s":"R14","t":79,"v":4.25},{"s":"R14","t":79.3,"v":4.45},{"s":"R14","t":79.75,"v":4.15},{"s":"R14","t":80.25,"v":3.29},{"s":"R14","t":80.75,"v":2.28},{"s":"R14","t":81.25,"v":1.18},{"s":"R14","t":81.75,"v":0.71},{"s":"R14","t":82.25,"v":0.47},{"s":"R14","t":83,"v":0.34},{"s":"R14","t":84,"v":0.26},{"s":"R14","t":85,"v":0.21},{"s":"R14","t":86,"v":0.17},{"s":"R14","t":87,"v":0.144},{"s":"R14","t":88,"v":0.108},{"s":"R14","t":89,"v":0.072},{"s":"R14","t":90,"v":0.036},{"s":"R14","t":91,"v":0.014},{"s":"R14","t":92,"v":0.005},{"s":"R14","t":95,"v":0},
{"s":"R1","t":60,"v":1.92},{"s":"R1","t":60.75,"v":1.74},{"s":"R1","t":61.5,"v":1.55},{"s":"R1","t":62.25,"v":1.69},{"s":"R1","t":63,"v":1.87},{"s":"R1","t":64,"v":2.00},{"s":"R1","t":64.75,"v":2.02},{"s":"R1","t":65.5,"v":2.00},{"s":"R1","t":66.5,"v":1.96},{"s":"R1","t":67.5,"v":1.90},{"s":"R1","t":68.5,"v":1.84},{"s":"R1","t":69.5,"v":1.82},{"s":"R1","t":70.5,"v":1.84},{"s":"R1","t":71.5,"v":1.85},{"s":"R1","t":72.5,"v":1.86},{"s":"R1","t":73.5,"v":1.84},{"s":"R1","t":74.5,"v":1.80},{"s":"R1","t":75.5,"v":1.78},{"s":"R1","t":76.25,"v":1.86},{"s":"R1","t":77,"v":2.23},{"s":"R1","t":77.5,"v":2.53},{"s":"R1","t":78,"v":3.17},{"s":"R1","t":78.5,"v":3.78},{"s":"R1","t":79,"v":4.34},{"s":"R1","t":79.3,"v":4.55},{"s":"R1","t":79.75,"v":4.24},{"s":"R1","t":80.25,"v":3.30},{"s":"R1","t":80.75,"v":2.23},{"s":"R1","t":81.25,"v":1.08},{"s":"R1","t":81.75,"v":0.65},{"s":"R1","t":82.25,"v":0.36},{"s":"R1","t":83,"v":0.27},{"s":"R1","t":84,"v":0.20},{"s":"R1","t":85,"v":0.16},{"s":"R1","t":86,"v":0.13},{"s":"R1","t":87,"v":0.11},{"s":"R1","t":88,"v":0.084},{"s":"R1","t":89,"v":0.056},{"s":"R1","t":90,"v":0.028},{"s":"R1","t":91,"v":0.01},{"s":"R1","t":92,"v":0.004},{"s":"R1","t":95,"v":0},
{"s":"R2","t":60,"v":1.85},{"s":"R2","t":60.75,"v":1.74},{"s":"R2","t":61.5,"v":1.62},{"s":"R2","t":62.25,"v":1.75},{"s":"R2","t":63,"v":1.91},{"s":"R2","t":64,"v":2.03},{"s":"R2","t":64.75,"v":2.05},{"s":"R2","t":65.5,"v":2.03},{"s":"R2","t":66.5,"v":1.99},{"s":"R2","t":67.5,"v":1.93},{"s":"R2","t":68.5,"v":1.87},{"s":"R2","t":69.5,"v":1.85},{"s":"R2","t":70.5,"v":1.87},{"s":"R2","t":71.5,"v":1.89},{"s":"R2","t":72.5,"v":1.90},{"s":"R2","t":73.5,"v":1.87},{"s":"R2","t":74.5,"v":1.83},{"s":"R2","t":75.5,"v":1.80},{"s":"R2","t":76.25,"v":1.88},{"s":"R2","t":77,"v":2.25},{"s":"R2","t":77.5,"v":2.55},{"s":"R2","t":78,"v":3.13},{"s":"R2","t":78.5,"v":3.74},{"s":"R2","t":79,"v":4.30},{"s":"R2","t":79.3,"v":4.50},{"s":"R2","t":79.75,"v":4.20},{"s":"R2","t":80.25,"v":3.28},{"s":"R2","t":80.75,"v":2.23},{"s":"R2","t":81.25,"v":1.10},{"s":"R2","t":81.75,"v":0.66},{"s":"R2","t":82.25,"v":0.39},{"s":"R2","t":83,"v":0.285},{"s":"R2","t":84,"v":0.22},{"s":"R2","t":85,"v":0.17},{"s":"R2","t":86,"v":0.14},{"s":"R2","t":87,"v":0.12},{"s":"R2","t":88,"v":0.09},{"s":"R2","t":89,"v":0.06},{"s":"R2","t":90,"v":0.03},{"s":"R2","t":91,"v":0.011},{"s":"R2","t":92,"v":0.004},{"s":"R2","t":95,"v":0},
{"s":"R3","t":60,"v":1.99},{"s":"R3","t":60.75,"v":1.87},{"s":"R3","t":61.5,"v":1.75},{"s":"R3","t":62.25,"v":1.85},{"s":"R3","t":63,"v":1.97},{"s":"R3","t":64,"v":2.06},{"s":"R3","t":64.75,"v":2.08},{"s":"R3","t":65.5,"v":2.06},{"s":"R3","t":66.5,"v":2.00},{"s":"R3","t":67.5,"v":1.92},{"s":"R3","t":68.5,"v":1.84},{"s":"R3","t":69.5,"v":1.82},{"s":"R3","t":70.5,"v":1.84},{"s":"R3","t":71.5,"v":1.87},{"s":"R3","t":72.5,"v":1.88},{"s":"R3","t":73.5,"v":1.84},{"s":"R3","t":74.5,"v":1.79},{"s":"R3","t":75.5,"v":1.76},{"s":"R3","t":76.25,"v":1.84},{"s":"R3","t":77,"v":2.21},{"s":"R3","t":77.5,"v":2.51},{"s":"R3","t":78,"v":3.12},{"s":"R3","t":78.5,"v":3.73},{"s":"R3","t":79,"v":4.28},{"s":"R3","t":79.3,"v":4.48},{"s":"R3","t":79.75,"v":4.18},{"s":"R3","t":80.25,"v":3.25},{"s":"R3","t":80.75,"v":2.20},{"s":"R3","t":81.25,"v":1.085},{"s":"R3","t":81.75,"v":0.65},{"s":"R3","t":82.25,"v":0.375},{"s":"R3","t":83,"v":0.27},{"s":"R3","t":84,"v":0.21},{"s":"R3","t":85,"v":0.165},{"s":"R3","t":86,"v":0.137},{"s":"R3","t":87,"v":0.115},{"s":"R3","t":88,"v":0.086},{"s":"R3","t":89,"v":0.058},{"s":"R3","t":90,"v":0.029},{"s":"R3","t":91,"v":0.011},{"s":"R3","t":92,"v":0.004},{"s":"R3","t":95,"v":0},
{"s":"R15","t":60,"v":1.82},{"s":"R15","t":60.75,"v":1.70},{"s":"R15","t":61.5,"v":1.58},{"s":"R15","t":62.25,"v":1.68},{"s":"R15","t":63,"v":1.81},{"s":"R15","t":64,"v":1.90},{"s":"R15","t":64.75,"v":1.92},{"s":"R15","t":65.5,"v":1.90},{"s":"R15","t":66.5,"v":1.87},{"s":"R15","t":67.5,"v":1.82},{"s":"R15","t":68.5,"v":1.77},{"s":"R15","t":69.5,"v":1.76},{"s":"R15","t":70.5,"v":1.78},{"s":"R15","t":71.5,"v":1.79},{"s":"R15","t":72.5,"v":1.80},{"s":"R15","t":73.5,"v":1.78},{"s":"R15","t":74.5,"v":1.74},{"s":"R15","t":75.5,"v":1.72},{"s":"R15","t":76.25,"v":1.80},{"s":"R15","t":77,"v":2.17},{"s":"R15","t":77.5,"v":2.47},{"s":"R15","t":78,"v":3.15},{"s":"R15","t":78.5,"v":3.76},{"s":"R15","t":79,"v":4.32},{"s":"R15","t":79.3,"v":4.52},{"s":"R15","t":79.75,"v":4.22},{"s":"R15","t":80.25,"v":3.26},{"s":"R15","t":80.75,"v":2.19},{"s":"R15","t":81.25,"v":1.05},{"s":"R15","t":81.75,"v":0.63},{"s":"R15","t":82.25,"v":0.34},{"s":"R15","t":83,"v":0.25},{"s":"R15","t":84,"v":0.19},{"s":"R15","t":85,"v":0.15},{"s":"R15","t":86,"v":0.12},{"s":"R15","t":87,"v":0.10},{"s":"R15","t":88,"v":0.078},{"s":"R15","t":89,"v":0.052},{"s":"R15","t":90,"v":0.026},{"s":"R15","t":91,"v":0.01},{"s":"R15","t":92,"v":0.003},{"s":"R15","t":95,"v":0},
{"s":"R6","t":60,"v":1.75},{"s":"R6","t":60.75,"v":1.64},{"s":"R6","t":61.5,"v":1.52},{"s":"R6","t":62.25,"v":1.65},{"s":"R6","t":63,"v":1.81},{"s":"R6","t":64,"v":1.93},{"s":"R6","t":64.75,"v":1.95},{"s":"R6","t":65.5,"v":1.93},{"s":"R6","t":66.5,"v":1.90},{"s":"R6","t":67.5,"v":1.85},{"s":"R6","t":68.5,"v":1.79},{"s":"R6","t":69.5,"v":1.78},{"s":"R6","t":70.5,"v":1.80},{"s":"R6","t":71.5,"v":1.81},{"s":"R6","t":72.5,"v":1.82},{"s":"R6","t":73.5,"v":1.79},{"s":"R6","t":74.5,"v":1.75},{"s":"R6","t":75.5,"v":1.72},{"s":"R6","t":76.25,"v":1.80},{"s":"R6","t":77,"v":2.17},{"s":"R6","t":77.5,"v":2.47},{"s":"R6","t":78,"v":3.07},{"s":"R6","t":78.5,"v":3.66},{"s":"R6","t":79,"v":4.20},{"s":"R6","t":79.3,"v":4.40},{"s":"R6","t":79.75,"v":4.10},{"s":"R6","t":80.25,"v":3.20},{"s":"R6","t":80.75,"v":2.17},{"s":"R6","t":81.25,"v":1.10},{"s":"R6","t":81.75,"v":0.66},{"s":"R6","t":82.25,"v":0.39},{"s":"R6","t":83,"v":0.285},{"s":"R6","t":84,"v":0.22},{"s":"R6","t":85,"v":0.17},{"s":"R6","t":86,"v":0.14},{"s":"R6","t":87,"v":0.12},{"s":"R6","t":88,"v":0.09},{"s":"R6","t":89,"v":0.06},{"s":"R6","t":90,"v":0.03},{"s":"R6","t":91,"v":0.011},{"s":"R6","t":92,"v":0.004},{"s":"R6","t":95,"v":0},
{"s":"R8","t":60,"v":1.70},{"s":"R8","t":60.75,"v":1.60},{"s":"R8","t":61.5,"v":1.50},{"s":"R8","t":62.25,"v":1.65},{"s":"R8","t":63,"v":1.84},{"s":"R8","t":64,"v":1.98},{"s":"R8","t":64.75,"v":2.00},{"s":"R8","t":65.5,"v":1.98},{"s":"R8","t":66.5,"v":1.96},{"s":"R8","t":67.5,"v":1.93},{"s":"R8","t":68.5,"v":1.89},{"s":"R8","t":69.5,"v":1.88},{"s":"R8","t":70.5,"v":1.91},{"s":"R8","t":71.5,"v":1.94},{"s":"R8","t":72.5,"v":1.95},{"s":"R8","t":73.5,"v":1.92},{"s":"R8","t":74.5,"v":1.88},{"s":"R8","t":75.5,"v":1.85},{"s":"R8","t":76.25,"v":1.93},{"s":"R8","t":77,"v":2.30},{"s":"R8","t":77.5,"v":2.60},{"s":"R8","t":78,"v":3.07},{"s":"R8","t":78.5,"v":3.66},{"s":"R8","t":79,"v":4.20},{"s":"R8","t":79.3,"v":4.40},{"s":"R8","t":79.75,"v":4.10},{"s":"R8","t":80.25,"v":3.26},{"s":"R8","t":80.75,"v":2.27},{"s":"R8","t":81.25,"v":1.20},{"s":"R8","t":81.75,"v":0.72},{"s":"R8","t":82.25,"v":0.49},{"s":"R8","t":83,"v":0.36},{"s":"R8","t":84,"v":0.28},{"s":"R8","t":85,"v":0.22},{"s":"R8","t":86,"v":0.18},{"s":"R8","t":87,"v":0.15},{"s":"R8","t":88,"v":0.114},{"s":"R8","t":89,"v":0.076},{"s":"R8","t":90,"v":0.038},{"s":"R8","t":91,"v":0.014},{"s":"R8","t":92,"v":0.005},{"s":"R8","t":95,"v":0},
{"s":"R9","t":60,"v":1.88},{"s":"R9","t":60.75,"v":1.78},{"s":"R9","t":61.5,"v":1.68},{"s":"R9","t":62.25,"v":1.81},{"s":"R9","t":63,"v":1.97},{"s":"R9","t":64,"v":2.08},{"s":"R9","t":64.75,"v":2.10},{"s":"R9","t":65.5,"v":2.08},{"s":"R9","t":66.5,"v":2.06},{"s":"R9","t":67.5,"v":2.01},{"s":"R9","t":68.5,"v":1.96},{"s":"R9","t":69.5,"v":1.95},{"s":"R9","t":70.5,"v":1.99},{"s":"R9","t":71.5,"v":2.04},{"s":"R9","t":72.5,"v":2.05},{"s":"R9","t":73.5,"v":2.01},{"s":"R9","t":74.5,"v":1.96},{"s":"R9","t":75.5,"v":1.93},{"s":"R9","t":76.25,"v":2.01},{"s":"R9","t":77,"v":2.38},{"s":"R9","t":77.5,"v":2.68},{"s":"R9","t":78,"v":3.03},{"s":"R9","t":78.5,"v":3.62},{"s":"R9","t":79,"v":4.16},{"s":"R9","t":79.3,"v":4.35},{"s":"R9","t":79.75,"v":4.06},{"s":"R9","t":80.25,"v":3.26},{"s":"R9","t":80.75,"v":2.30},{"s":"R9","t":81.25,"v":1.25},{"s":"R9","t":81.75,"v":0.75},{"s":"R9","t":82.25,"v":0.55},{"s":"R9","t":83,"v":0.40},{"s":"R9","t":84,"v":0.30},{"s":"R9","t":85,"v":0.24},{"s":"R9","t":86,"v":0.20},{"s":"R9","t":87,"v":0.17},{"s":"R9","t":88,"v":0.126},{"s":"R9","t":89,"v":0.084},{"s":"R9","t":90,"v":0.042},{"s":"R9","t":91,"v":0.016},{"s":"R9","t":92,"v":0.005},{"s":"R9","t":95,"v":0},
{"s":"R10","t":60,"v":1.65},{"s":"R10","t":60.75,"v":1.56},{"s":"R10","t":61.5,"v":1.47},{"s":"R10","t":62.25,"v":1.64},{"s":"R10","t":63,"v":1.85},{"s":"R10","t":64,"v":2.01},{"s":"R10","t":64.75,"v":2.03},{"s":"R10","t":65.5,"v":2.01},{"s":"R10","t":66.5,"v":2.00},{"s":"R10","t":67.5,"v":1.96},{"s":"R10","t":68.5,"v":1.93},{"s":"R10","t":69.5,"v":1.92},{"s":"R10","t":70.5,"v":1.94},{"s":"R10","t":71.5,"v":1.97},{"s":"R10","t":72.5,"v":1.98},{"s":"R10","t":73.5,"v":1.94},{"s":"R10","t":74.5,"v":1.87},{"s":"R10","t":75.5,"v":1.83},{"s":"R10","t":76.25,"v":1.91},{"s":"R10","t":77,"v":2.28},{"s":"R10","t":77.5,"v":2.58},{"s":"R10","t":78,"v":3.05},{"s":"R10","t":78.5,"v":3.64},{"s":"R10","t":79,"v":4.18},{"s":"R10","t":79.3,"v":4.38},{"s":"R10","t":79.75,"v":4.08},{"s":"R10","t":80.25,"v":3.31},{"s":"R10","t":80.75,"v":2.36},{"s":"R10","t":81.25,"v":1.30},{"s":"R10","t":81.75,"v":0.78},{"s":"R10","t":82.25,"v":0.60},{"s":"R10","t":83,"v":0.44},{"s":"R10","t":84,"v":0.33},{"s":"R10","t":85,"v":0.265},{"s":"R10","t":86,"v":0.22},{"s":"R10","t":87,"v":0.18},{"s":"R10","t":88,"v":0.14},{"s":"R10","t":89,"v":0.092},{"s":"R10","t":90,"v":0.046},{"s":"R10","t":91,"v":0.017},{"s":"R10","t":92,"v":0.006},{"s":"R10","t":95,"v":0},
{"s":"R16","t":60,"v":1.72},{"s":"R16","t":60.75,"v":1.64},{"s":"R16","t":61.5,"v":1.55},{"s":"R16","t":62.25,"v":1.68},{"s":"R16","t":63,"v":1.84},{"s":"R16","t":64,"v":1.96},{"s":"R16","t":64.75,"v":1.98},{"s":"R16","t":65.5,"v":1.96},{"s":"R16","t":66.5,"v":1.95},{"s":"R16","t":67.5,"v":1.92},{"s":"R16","t":68.5,"v":1.89},{"s":"R16","t":69.5,"v":1.88},{"s":"R16","t":70.5,"v":1.90},{"s":"R16","t":71.5,"v":1.92},{"s":"R16","t":72.5,"v":1.93},{"s":"R16","t":73.5,"v":1.89},{"s":"R16","t":74.5,"v":1.83},{"s":"R16","t":75.5,"v":1.80},{"s":"R16","t":76.25,"v":1.88},{"s":"R16","t":77,"v":2.25},{"s":"R16","t":77.5,"v":2.55},{"s":"R16","t":78,"v":3.08},{"s":"R16","t":78.5,"v":3.67},{"s":"R16","t":79,"v":4.22},{"s":"R16","t":79.3,"v":4.42},{"s":"R16","t":79.75,"v":4.12},{"s":"R16","t":80.25,"v":3.32},{"s":"R16","t":80.75,"v":2.36},{"s":"R16","t":81.25,"v":1.28},{"s":"R16","t":81.75,"v":0.77},{"s":"R16","t":82.25,"v":0.57},{"s":"R16","t":83,"v":0.42},{"s":"R16","t":84,"v":0.32},{"s":"R16","t":85,"v":0.25},{"s":"R16","t":86,"v":0.21},{"s":"R16","t":87,"v":0.176},{"s":"R16","t":88,"v":0.132},{"s":"R16","t":89,"v":0.088},{"s":"R16","t":90,"v":0.044},{"s":"R16","t":91,"v":0.017},{"s":"R16","t":92,"v":0.006},{"s":"R16","t":95,"v":0},
{"s":"R11","t":60,"v":1.62},{"s":"R11","t":60.75,"v":1.55},{"s":"R11","t":61.5,"v":1.48},{"s":"R11","t":62.25,"v":1.65},{"s":"R11","t":63,"v":1.86},{"s":"R11","t":64,"v":2.02},{"s":"R11","t":64.75,"v":2.04},{"s":"R11","t":65.5,"v":2.02},{"s":"R11","t":66.5,"v":2.01},{"s":"R11","t":67.5,"v":1.97},{"s":"R11","t":68.5,"v":1.94},{"s":"R11","t":69.5,"v":1.93},{"s":"R11","t":70.5,"v":1.94},{"s":"R11","t":71.5,"v":1.95},{"s":"R11","t":72.5,"v":1.96},{"s":"R11","t":73.5,"v":1.92},{"s":"R11","t":74.5,"v":1.87},{"s":"R11","t":75.5,"v":1.84},{"s":"R11","t":76.25,"v":1.92},{"s":"R11","t":77,"v":2.29},{"s":"R11","t":77.5,"v":2.59},{"s":"R11","t":78,"v":3.00},{"s":"R11","t":78.5,"v":3.57},{"s":"R11","t":79,"v":4.11},{"s":"R11","t":79.3,"v":4.30},{"s":"R11","t":79.75,"v":4.01},{"s":"R11","t":80.25,"v":3.26},{"s":"R11","t":80.75,"v":2.35},{"s":"R11","t":81.25,"v":1.33},{"s":"R11","t":81.75,"v":0.80},{"s":"R11","t":82.25,"v":0.62},{"s":"R11","t":83,"v":0.46},{"s":"R11","t":84,"v":0.35},{"s":"R11","t":85,"v":0.28},{"s":"R11","t":86,"v":0.23},{"s":"R11","t":87,"v":0.19},{"s":"R11","t":88,"v":0.144},{"s":"R11","t":89,"v":0.096},{"s":"R11","t":90,"v":0.048},{"s":"R11","t":91,"v":0.018},{"s":"R11","t":92,"v":0.006},{"s":"R11","t":95,"v":0},
{"s":"R12","t":60,"v":1.78},{"s":"R12","t":60.75,"v":1.69},{"s":"R12","t":61.5,"v":1.60},{"s":"R12","t":62.25,"v":1.74},{"s":"R12","t":63,"v":1.91},{"s":"R12","t":64,"v":2.04},{"s":"R12","t":64.75,"v":2.06},{"s":"R12","t":65.5,"v":2.04},{"s":"R12","t":66.5,"v":2.03},{"s":"R12","t":67.5,"v":1.99},{"s":"R12","t":68.5,"v":1.96},{"s":"R12","t":69.5,"v":1.95},{"s":"R12","t":70.5,"v":1.96},{"s":"R12","t":71.5,"v":1.96},{"s":"R12","t":72.5,"v":1.97},{"s":"R12","t":73.5,"v":1.93},{"s":"R12","t":74.5,"v":1.88},{"s":"R12","t":75.5,"v":1.85},{"s":"R12","t":76.25,"v":1.93},{"s":"R12","t":77,"v":2.30},{"s":"R12","t":77.5,"v":2.60},{"s":"R12","t":78,"v":3.03},{"s":"R12","t":78.5,"v":3.62},{"s":"R12","t":79,"v":4.16},{"s":"R12","t":79.3,"v":4.35},{"s":"R12","t":79.75,"v":4.06},{"s":"R12","t":80.25,"v":3.32},{"s":"R12","t":80.75,"v":2.40},{"s":"R12","t":81.25,"v":1.35},{"s":"R12","t":81.75,"v":0.81},{"s":"R12","t":82.25,"v":0.65},{"s":"R12","t":83,"v":0.475},{"s":"R12","t":84,"v":0.36},{"s":"R12","t":85,"v":0.29},{"s":"R12","t":86,"v":0.24},{"s":"R12","t":87,"v":0.20},{"s":"R12","t":88,"v":0.15},{"s":"R12","t":89,"v":0.10},{"s":"R12","t":90,"v":0.05},{"s":"R12","t":91,"v":0.019},{"s":"R12","t":92,"v":0.006},{"s":"R12","t":95,"v":0},
{"s":"R13","t":60,"v":1.60},{"s":"R13","t":60.75,"v":1.53},{"s":"R13","t":61.5,"v":1.45},{"s":"R13","t":62.25,"v":1.58},{"s":"R13","t":63,"v":1.74},{"s":"R13","t":64,"v":1.86},{"s":"R13","t":64.75,"v":1.88},{"s":"R13","t":65.5,"v":1.86},{"s":"R13","t":66.5,"v":1.86},{"s":"R13","t":67.5,"v":1.83},{"s":"R13","t":68.5,"v":1.81},{"s":"R13","t":69.5,"v":1.80},{"s":"R13","t":70.5,"v":1.82},{"s":"R13","t":71.5,"v":1.84},{"s":"R13","t":72.5,"v":1.85},{"s":"R13","t":73.5,"v":1.82},{"s":"R13","t":74.5,"v":1.77},{"s":"R13","t":75.5,"v":1.74},{"s":"R13","t":76.25,"v":1.82},{"s":"R13","t":77,"v":2.19},{"s":"R13","t":77.5,"v":2.49},{"s":"R13","t":78,"v":2.98},{"s":"R13","t":78.5,"v":3.56},{"s":"R13","t":79,"v":4.09},{"s":"R13","t":79.3,"v":4.28},{"s":"R13","t":79.75,"v":3.99},{"s":"R13","t":80.25,"v":3.25},{"s":"R13","t":80.75,"v":2.34},{"s":"R13","t":81.25,"v":1.33},{"s":"R13","t":81.75,"v":0.80},{"s":"R13","t":82.25,"v":0.62},{"s":"R13","t":83,"v":0.46},{"s":"R13","t":84,"v":0.35},{"s":"R13","t":85,"v":0.28},{"s":"R13","t":86,"v":0.23},{"s":"R13","t":87,"v":0.19},{"s":"R13","t":88,"v":0.144},{"s":"R13","t":89,"v":0.096},{"s":"R13","t":90,"v":0.048},{"s":"R13","t":91,"v":0.018},{"s":"R13","t":92,"v":0.006},{"s":"R13","t":95,"v":0}
],
"tmL": [{"t": 79.73, "label": "Tm: 79.73"}],
"tmR": [{"t": 79.29, "label": "Tm: 79.29"}]
},
"resolve": {"scale": {"x": "independent", "y": "independent", "color": "independent"}},
"spacing": 6,
"hconcat": [
{
 "width": 467, "height": 647,
 "title": {"text": "CYP1A melt curve", "dx": 20},
 "layer": [
  {"data": {"name": "cyp"},
   "mark": {"type": "line", "strokeWidth": 1.3, "interpolate": "monotone", "clip": true},
   "encoding": {
    "x": {"field": "t", "type": "quantitative", "scale": {"domain": [60, 95], "nice": false, "zero": false},
      "axis": {"title": "Temperature (°C)", "titleFontSize": 12, "titlePadding": 16, "labelPadding": 4, "grid": true, "tickCount": 40,
        "values": [60,61,62,63,64,65,66,67,68,69,70,71,72,73,74,75,76,77,78,79,80,81,82,83,84,85,86,87,88,89,90,91,92,93,94,95],
        "labelExpr": "datum.value % 5 == 0 && datum.value > 60 ? format(datum.value, '.1f') : ''"}},
    "y": {"field": "v", "type": "quantitative", "scale": {"domain": [0, 4.23], "nice": false, "zero": false},
      "axis": {"title": "Derivative Reporter (-Rn)", "titleFontSize": 11, "titlePadding": 44, "labelPadding": 2, "grid": true, "tickCount": 50,
        "values": [0.1,0.2,0.3,0.4,0.5,0.6,0.7,0.8,0.9,1,1.1,1.2,1.3,1.4,1.5,1.6,1.7,1.8,1.9,2,2.1,2.2,2.3,2.4,2.5,2.6,2.7,2.8,2.9,3,3.1,3.2,3.3,3.4,3.5,3.6,3.7,3.8,3.9,4,4.1,4.2],
        "labelExpr": "round(datum.value * 10) % 5 == 0 ? format(datum.value, '.1f') : ''"}},
    "color": {"field": "s", "type": "nominal", "legend": null,
      "scale": {"domain": ["L0","L1","L2","L3","L4","L13","L5","L6","L7","L8","L9","L10","L11","L12","L14"],
                "range": ["#2ec28c","#c9362b","#de4f2a","#e8832c","#b05a28","#7cb83a","#e6ad2e","#e2d83c","#c2de3a","#98e03c","#5ad83e","#3acb3a","#34d05a","#46dc46","#2ee04a"]}}
   }},
  {"data": {"name": "tmL"},
   "mark": {"type": "rule", "color": "#1f4fa0", "strokeWidth": 1, "strokeDash": [2, 2]},
   "encoding": {"x": {"field": "t", "type": "quantitative"}}},
  {"data": {"name": "tmL"},
   "mark": {"type": "text", "color": "#3a73b8", "fontSize": 10, "font": "Liberation Sans", "dy": 27, "baseline": "middle", "align": "center"},
   "encoding": {"x": {"field": "t", "type": "quantitative"}, "y": {"value": "height"}, "text": {"field": "label"}}}
 ]
},
{
 "width": 466, "height": 647,
 "title": {"text": "18S rRNA melt curve", "dx": 12},
 "layer": [
  {"data": {"name": "rrna"},
   "mark": {"type": "line", "strokeWidth": 1.3, "interpolate": "monotone", "clip": true},
   "encoding": {
    "x": {"field": "t", "type": "quantitative", "scale": {"domain": [60, 95], "nice": false, "zero": false},
      "axis": {"title": "Temperature (°C)", "titleFontSize": 12, "titlePadding": 16, "labelPadding": 4, "grid": true, "tickCount": 40,
        "values": [60,61,62,63,64,65,66,67,68,69,70,71,72,73,74,75,76,77,78,79,80,81,82,83,84,85,86,87,88,89,90,91,92,93,94,95],
        "labelExpr": "datum.value % 5 == 0 && datum.value > 60 ? format(datum.value, '.1f') : ''"}},
    "y": {"field": "v", "type": "quantitative", "scale": {"domain": [0, 4.63], "nice": false, "zero": false},
      "axis": {"title": "Derivative Reporter (-Rn)", "titleFontSize": 11, "titlePadding": 44, "labelPadding": 2, "grid": true, "tickCount": 50,
        "values": [0.1,0.2,0.3,0.4,0.5,0.6,0.7,0.8,0.9,1,1.1,1.2,1.3,1.4,1.5,1.6,1.7,1.8,1.9,2,2.1,2.2,2.3,2.4,2.5,2.6,2.7,2.8,2.9,3,3.1,3.2,3.3,3.4,3.5,3.6,3.7,3.8,3.9,4,4.1,4.2,4.3,4.4,4.5,4.6],
        "labelExpr": "round(datum.value * 10) % 5 == 0 ? format(datum.value, '.1f') : ''"}},
    "color": {"field": "s", "type": "nominal", "legend": null,
      "scale": {"domain": ["O1","O2","R4","R5","R7","R14","R1","R2","R3","R15","R6","R8","R9","R10","R16","R11","R12","R13"],
                "range": ["#d0508a","#c8508f","#5a8ee6","#40b4e0","#6048d0","#5a3cc0","#2030e0","#3048d8","#4060e8","#2840f0","#5060c0","#7a3cc8","#9a3cd0","#b030c8","#c020d0","#d028c8","#e020c0","#d83aa8"]}}
   }},
  {"data": {"name": "tmR"},
   "mark": {"type": "rule", "color": "#1f4fa0", "strokeWidth": 1, "strokeDash": [2, 2]},
   "encoding": {"x": {"field": "t", "type": "quantitative"}}},
  {"data": {"name": "tmR"},
   "mark": {"type": "text", "color": "#3a73b8", "fontSize": 10, "font": "Liberation Sans", "dy": 27, "baseline": "middle", "align": "center"},
   "encoding": {"x": {"field": "t", "type": "quantitative"}, "y": {"value": "height"}, "text": {"field": "label"}}}
 ]
}
]
}
